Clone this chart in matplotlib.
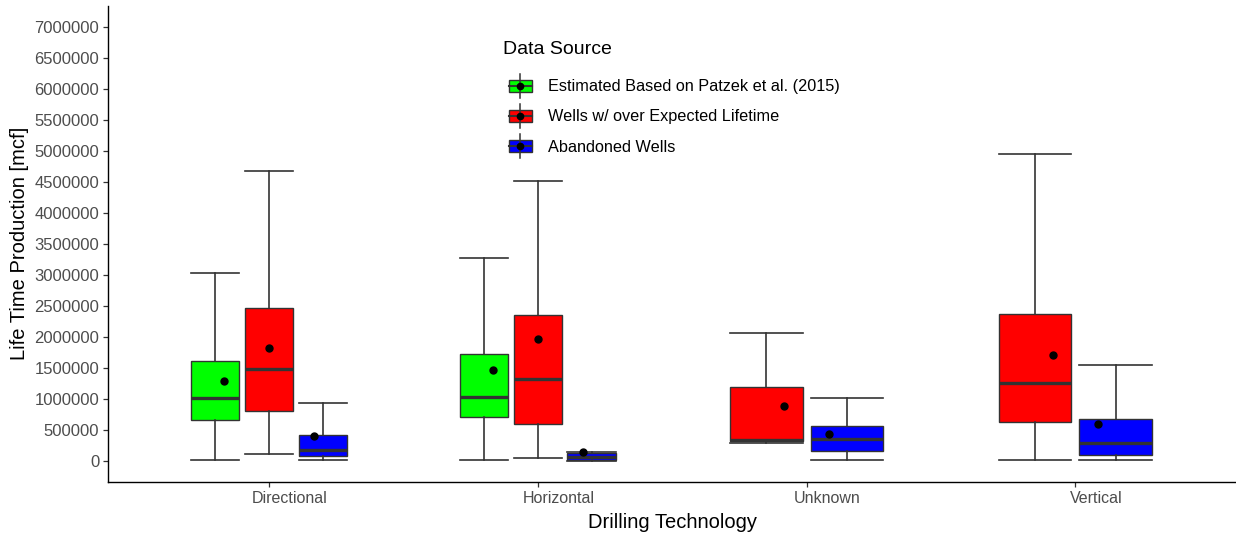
import numpy as np
import matplotlib.pyplot as plt
from matplotlib.patches import Rectangle
from matplotlib.lines import Line2D
from matplotlib.transforms import ScaledTranslation

plt.rcParams["font.family"] = ["Liberation Sans", "DejaVu Sans"]

categories = ["Directional", "Horizontal", "Unknown", "Vertical"]
sources = [
    "Estimated Based on Patzek et al. (2015)",
    "Wells w/ over Expected Lifetime",
    "Abandoned Wells",
]
colors = ["#00FF00", "#FF0000", "#0000FF"]

# rows follow `sources`, columns follow `categories` (None = no wells in that group)
whisker_low = [
    [10000, 10000, None, None],
    [113000, 53000, 285000, 10000],
    [10000, 3000, 10000, 10000],
]
q1 = [
    [666000, 705000, None, None],
    [806000, 592000, 320000, 634000],
    [81000, 8000, 161000, 102000],
]
median = [
    [1011000, 1037000, None, None],
    [1484000, 1323000, 345000, 1258000],
    [172000, 62000, 355000, 295000],
]
q3 = [
    [1613000, 1731000, None, None],
    [2473000, 2355000, 1199000, 2371000],
    [424000, 128000, 565000, 672000],
]
whisker_high = [
    [3032000, 3269000, None, None],
    [4677000, 4516000, 2060000, 4957000],
    [940000, 140000, 1011000, 1544000],
]
mean = [
    [1285000, 1473000, None, None],
    [1823000, 1963000, 892000, 1710000],
    [408000, 140000, 430000, 592000],
]

W, H = 1236, 537
EDGE = "#333333"

fig = plt.figure(figsize=(W / 100, H / 100), dpi=100)
ax = fig.add_axes([107.7 / W, 1 - 481.7 / H, 1129 / W, 475.7 / H])

positions = np.arange(1, len(categories) + 1)
for ci, x0 in enumerate(positions):
    present = [si for si in range(len(sources)) if median[si][ci] is not None]
    n = len(present)
    slot = 0.6 / n
    for k, si in enumerate(present):
        xc = x0 + (k - (n - 1) / 2) * slot
        stats = [dict(whislo=whisker_low[si][ci], q1=q1[si][ci], med=median[si][ci],
                      q3=q3[si][ci], whishi=whisker_high[si][ci], fliers=[])]
        ax.bxp(stats, positions=[xc], widths=slot * 0.9, capwidths=slot * 0.9,
               patch_artist=True, showfliers=False, manage_ticks=False,
               boxprops=dict(facecolor=colors[si], edgecolor=EDGE, linewidth=1.0),
               medianprops=dict(color=EDGE, linewidth=2.4, solid_capstyle="butt"),
               whiskerprops=dict(color=EDGE, linewidth=1.2),
               capprops=dict(color=EDGE, linewidth=1.2))
        # group means, dodged on a narrower spacing than the boxes
        xm = x0 + (k - (n - 1) / 2) / 6
        ax.plot(xm, mean[si][ci], "o", color="black", markersize=5, zorder=5)

ax.set_xlim(0.4, 4.6)
ax.set_ylim(-334000, 7339000)
ax.set_xticks(positions)
ax.set_xticklabels(categories)
yt = np.arange(0, 7000001, 500000)
ax.set_yticks(yt)
ax.set_yticklabels([f"{v:d}" for v in yt])

for s in ["top", "right"]:
    ax.spines[s].set_visible(False)
for s in ["left", "bottom"]:
    ax.spines[s].set_color("black")
    ax.spines[s].set_linewidth(1.0)
ax.tick_params(axis="both", length=3.5, width=0.9, color=EDGE, labelcolor="#4D4D4D")
ax.tick_params(axis="y", labelsize=12, pad=2.5)
ax.tick_params(axis="x", labelsize=11.5, pad=3)
shift = ScaledTranslation(0.21, 0, fig.dpi_scale_trans)
for lab in ax.get_xticklabels():
    lab.set_transform(lab.get_transform() + shift)

ax.set_xlabel("Drilling Technology", fontsize=14.5, labelpad=5)
ax.set_ylabel("Life Time Production [mcf]", fontsize=14.5, labelpad=4)


def fx(x):
    return x / W


def fy(y):
    return 1 - y / H


# legend drawn in figure pixel positions
fig.text(fx(503), fy(50), "Data Source", fontsize=14, va="center", ha="left")
for i, (name, col) in enumerate(zip(sources, colors)):
    yc = 86 + 30 * i
    fig.add_artist(Line2D([fx(520.3)] * 2, [fy(yc - 12), fy(yc + 12)],
                          transform=fig.transFigure, color=EDGE, linewidth=1.1))
    fig.add_artist(Rectangle((fx(508.5), fy(yc + 6)), 23.6 / W, 12 / H,
                             transform=fig.transFigure, facecolor=col,
                             edgecolor=EDGE, linewidth=1.0))
    fig.add_artist(Line2D([fx(508.5), fx(532.1)], [fy(yc)] * 2,
                          transform=fig.transFigure, color=EDGE, linewidth=1.5))
    fig.add_artist(Line2D([fx(520.3)], [fy(yc)], transform=fig.transFigure,
                          marker="o", color="black", markersize=4.5))
    fig.text(fx(548), fy(yc + 1), name, fontsize=11.7, va="center", ha="left")

fig.savefig("out.png", dpi=100)
